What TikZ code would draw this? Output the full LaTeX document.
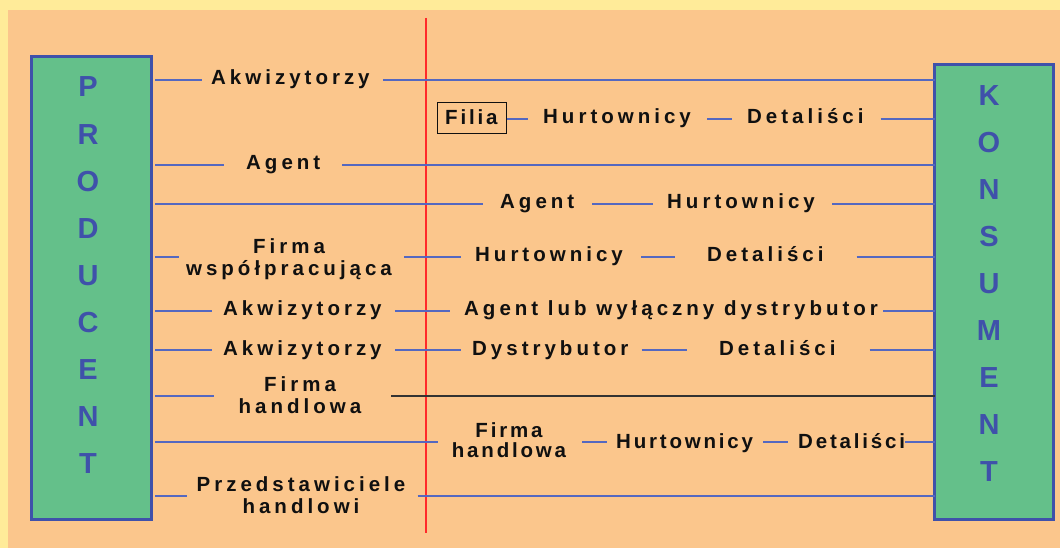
\documentclass[tikz,border=0pt]{standalone}
\usepackage{fontspec}
\setmainfont{Liberation Sans}
\newfontfamily\lblfont[LetterSpace=19.5]{Liberation Sans Bold}
\newfontfamily\lblfontn[LetterSpace=13.7]{Liberation Sans Bold}
\newfontfamily\ltrfont{Liberation Sans Bold}
\definecolor{bgyellow}{HTML}{FFEB99}
\definecolor{bgorange}{HTML}{FBC68C}
\definecolor{boxgreen}{HTML}{64C08A}
\definecolor{boxblue}{HTML}{3F51AA}
\definecolor{linkblue}{HTML}{5468C0}
\definecolor{divred}{HTML}{FF2A2A}
\definecolor{inkdark}{HTML}{101010}
\tikzset{
  endbox/.style={draw=boxblue, fill=boxgreen, line width=3pt, inner sep=0pt, outer sep=0pt},
  boxletter/.style={text=boxblue, font=\fontsize{29}{29}\selectfont\ltrfont, inner sep=0pt, anchor=base},
  lbl/.style={text=inkdark, font=\fontsize{20.5}{21.5}\selectfont\lblfont, inner sep=0pt, anchor=base west},
  lblc/.style={text=inkdark, font=\fontsize{20.5}{21.5}\selectfont\lblfont, inner sep=0pt, anchor=base, align=center},
  lbln/.style={text=inkdark, font=\fontsize{20.5}{21}\selectfont\lblfontn, inner sep=0pt, anchor=base west},
  lblnc/.style={text=inkdark, font=\fontsize{20.5}{20}\selectfont\lblfontn, inner sep=0pt, anchor=base, align=center},
  link/.style={draw=linkblue, line width=1.4pt},
  darklink/.style={draw=black!80, line width=1.4pt},
}
\begin{document}
\begin{tikzpicture}[x=1pt,y=-1pt]
% background
\fill[bgyellow] (0,0) rectangle (1060,548);
\fill[bgorange] (8,10) rectangle (1060,548);
\useasboundingbox (0,0) rectangle (1060,548);

% divider
\draw[divred, line width=1.8pt] (426,18) -- (426,533);

% end boxes
\node[endbox, minimum width=120pt, minimum height=462pt] (prod) at (91.5,288) {};
\node[endbox, minimum width=119pt, minimum height=454pt] (kons) at (994,292) {};
\foreach \ch [count=\i] in {P,R,O,D,U,C,E,N,T}
  \node[boxletter] (pl\i) at (88,{97+47.1*(\i-1)}) {\ch};
\foreach \ch [count=\i] in {K,O,N,S,U,M,E,N,T}
  \node[boxletter] (kl\i) at (989,{105.5+47.06*(\i-1)}) {\ch};

% row levels
\coordinate (R1) at (0,80);
\coordinate (R2) at (0,119);
\coordinate (R3) at (0,165);
\coordinate (R4) at (0,204);
\coordinate (R5) at (0,257);
\coordinate (R6) at (0,311);
\coordinate (R7) at (0,350);
\coordinate (R8) at (0,396);
\coordinate (R9) at (0,442);
\coordinate (R10) at (0,496);

% labels (two-line labels are anchored at the baseline of their last line)
\node[lbl] (a1) at (211,84.5) {Akwizytorzy};
\node[draw=inkdark, line width=1pt, minimum width=69pt, minimum height=31pt, inner sep=0pt] (fil) at (471.5,118.5) {};
\node[lbln] (fil-t) at (445,125) {Filia};
\node[lbl] (h2) at (543,123.5) {Hurtownicy};
\node[lbl] (d2) at (747,123.5) {Detaliści};
\node[lbl] (ag3) at (246,170) {Agent};
\node[lbl] (ag4) at (500,208.5) {Agent};
\node[lbl] (h4) at (667,208.5) {Hurtownicy};
\node[lblc] (fw5) at (289,275) {Firma\\współpracująca};
\node[lbl] (h5) at (475,261.7) {Hurtownicy};
\node[lbl] (d5) at (707,261.7) {Detaliści};
\node[lbl] (a6) at (223,315.7) {Akwizytorzy};
\node[lbl] (al6) at (464,315.7) {Agent lub wyłączny dystrybutor};
\node[lbl] (a7) at (223,355) {Akwizytorzy};
\node[lbl] (dy7) at (472,355) {Dystrybutor};
\node[lbl] (d7) at (719,355) {Detaliści};
\node[lblc] (fh8) at (300,413) {Firma\\handlowa};
\node[lblnc] (fh9) at (509,457) {Firma\\handlowa};
\node[lbln] (h9) at (616,448) {Hurtownicy};
\node[lbln] (d9) at (798,448) {Detaliści};
\node[lblc] (ph10) at (301,513) {Przedstawiciele\\handlowi};

% connectors
\draw[link] ([xshift=3.5pt]prod.east |- R1) -- ([xshift=-9pt]a1.west |- R1);
\draw[link] ([xshift=13pt]a1.east |- R1) -- (kons.west |- R1);

\draw[link] (fil.east |- R2) -- ([xshift=-15pt]h2.west |- R2);
\draw[link] ([xshift=16pt]h2.east |- R2) -- ([xshift=-15pt]d2.west |- R2);
\draw[link] ([xshift=17pt]d2.east |- R2) -- (kons.west |- R2);

\draw[link] ([xshift=3.5pt]prod.east |- R3) -- ([xshift=-22pt]ag3.west |- R3);
\draw[link] ([xshift=22pt]ag3.east |- R3) -- (kons.west |- R3);

\draw[link] ([xshift=3.5pt]prod.east |- R4) -- ([xshift=-17pt]ag4.west |- R4);
\draw[link] ([xshift=18pt]ag4.east |- R4) -- ([xshift=-14pt]h4.west |- R4);
\draw[link] ([xshift=17pt]h4.east |- R4) -- (kons.west |- R4);

\draw[link] ([xshift=3.5pt]prod.east |- R5) -- ([xshift=-7pt]fw5.west |- R5);
\draw[link] ([xshift=12pt]fw5.east |- R5) -- ([xshift=-14pt]h5.west |- R5);
\draw[link] ([xshift=18pt]h5.east |- R5) -- ([xshift=-32pt]d5.west |- R5);
\draw[link] ([xshift=33pt]d5.east |- R5) -- (kons.west |- R5);

\draw[link] ([xshift=3.5pt]prod.east |- R6) -- ([xshift=-11pt]a6.west |- R6);
\draw[link] ([xshift=13pt]a6.east |- R6) -- ([xshift=-14pt]al6.west |- R6);
\draw[link] ([xshift=5pt]al6.east |- R6) -- (kons.west |- R6);

\draw[link] ([xshift=3.5pt]prod.east |- R7) -- ([xshift=-11pt]a7.west |- R7);
\draw[link] ([xshift=13pt]a7.east |- R7) -- ([xshift=-11pt]dy7.west |- R7);
\draw[link] ([xshift=13pt]dy7.east |- R7) -- ([xshift=-32pt]d7.west |- R7);
\draw[link] ([xshift=34pt]d7.east |- R7) -- (kons.west |- R7);

\draw[link] ([xshift=3.5pt]prod.east |- R8) -- ([xshift=-25pt]fh8.west |- R8);
\draw[darklink] ([xshift=30pt]fh8.east |- R8) -- (kons.west |- R8);

\draw[link] ([xshift=3.5pt]prod.east |- R9) -- ([xshift=-14pt]fh9.west |- R9);
\draw[link] ([xshift=16pt]fh9.east |- R9) -- ([xshift=-9pt]h9.west |- R9);
\draw[link] ([xshift=10pt]h9.east |- R9) -- ([xshift=-10pt]d9.west |- R9);
\draw[link] (d9.east |- R9) -- (kons.west |- R9);

\draw[link] ([xshift=3.5pt]prod.east |- R10) -- ([xshift=-9pt]ph10.west |- R10);
\draw[link] ([xshift=12pt]ph10.east |- R10) -- (kons.west |- R10);
\end{tikzpicture}
\end{document}
